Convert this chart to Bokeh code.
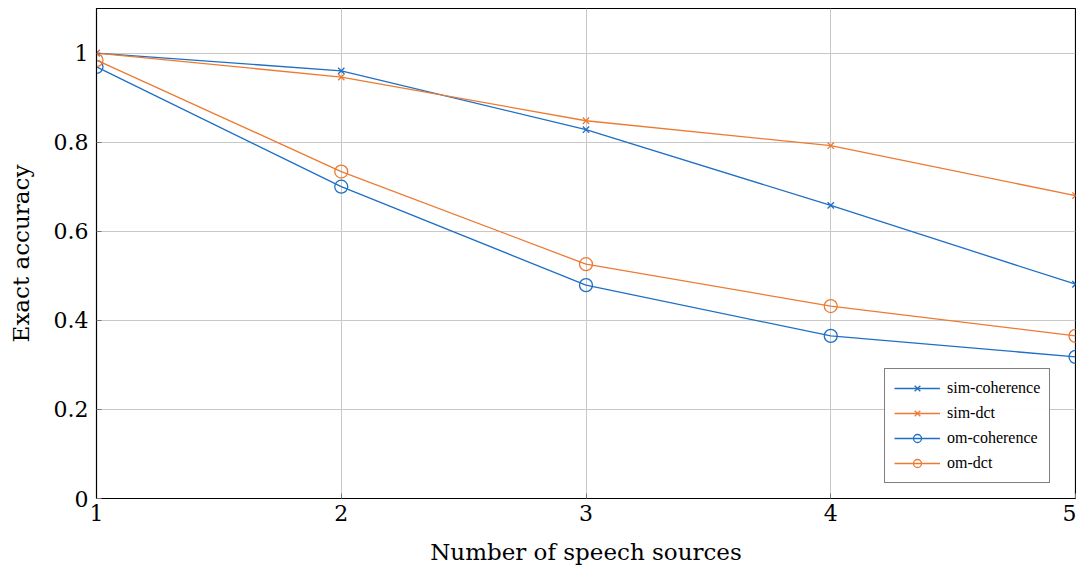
from bokeh.plotting import figure
from bokeh.embed import file_html
from bokeh.resources import INLINE
from bokeh.models import FixedTicker, Range1d, Legend, LegendItem

sources = [1, 2, 3, 4, 5]
sim_coherence = [1.0, 0.960, 0.828, 0.658, 0.481]
sim_dct = [1.0, 0.946, 0.848, 0.792, 0.680]
om_coherence = [0.969, 0.700, 0.479, 0.365, 0.318]
om_dct = [0.984, 0.734, 0.526, 0.432, 0.365]
y_ticks = [0, 0.2, 0.4, 0.6, 0.8, 1.0]
y_tick_labels = ["0", "0.2", "0.4", "0.6", "0.8", "1"]

BLUE = "#1f6fc5"
ORANGE = "#ec7a32"
FONT = "DejaVu Serif"
LEGEND_FONT = "Liberation Serif"

p = figure(width=1076, height=567, output_backend="svg", toolbar_location=None,
           x_range=Range1d(1, 5), y_range=Range1d(0, 1.1),
           min_border_left=96, min_border_right=1, min_border_top=8, min_border_bottom=69)
p.outline_line_color = "black"
p.outline_line_width = 1.2
p.background_fill_color = "white"
p.border_fill_color = "white"

p.xaxis.ticker = FixedTicker(ticks=sources)
p.yaxis.ticker = FixedTicker(ticks=y_ticks)
p.yaxis.major_label_overrides = {t: l for t, l in zip(y_ticks, y_tick_labels)}
for ax in (p.xaxis, p.yaxis):
    ax.axis_line_color = "black"
    ax.major_tick_in = 5
    ax.major_tick_out = 0
    ax.major_tick_line_color = "#777777"
    ax.minor_tick_line_color = None
    ax.major_label_text_font = FONT
    ax.major_label_text_font_size = "22px"
    ax.major_label_text_color = "black"
    ax.axis_label_text_font = FONT
    ax.axis_label_text_font_size = "23px"
    ax.axis_label_text_font_style = "normal"
    ax.axis_label_text_color = "black"
p.xaxis.axis_label = "Number of speech sources"
p.yaxis.axis_label = "Exact accuracy"
p.xaxis.major_label_standoff = 6
p.yaxis.major_label_standoff = 8
p.xaxis.axis_label_standoff = 15
p.yaxis.axis_label_standoff = 17

p.xgrid.grid_line_color = "#c8c8c8"
p.ygrid.grid_line_color = "#c8c8c8"
p.xgrid.grid_line_width = 1
p.ygrid.grid_line_width = 1

series = [
    ("sim-coherence", sim_coherence, BLUE, "x"),
    ("sim-dct", sim_dct, ORANGE, "x"),
    ("om-coherence", om_coherence, BLUE, "circle"),
    ("om-dct", om_dct, ORANGE, "circle"),
]
items = []
for name, vals, col, mk in series:
    l = p.line(sources, vals, line_color=col, line_width=1.3)
    if mk == "x":
        s = p.scatter(sources, vals, marker="x", size=9, line_color=col, line_width=1.3)
    else:
        s = p.scatter(sources, vals, marker="circle", size=13, line_color=col,
                      fill_color=None, line_width=1.3)
    items.append(LegendItem(label=name, renderers=[l, s]))

legend = Legend(items=items, location=(788, 15))
legend.label_text_font = LEGEND_FONT
legend.label_text_font_size = "16px"
legend.label_text_color = "black"
legend.border_line_color = "black"
legend.border_line_width = 1.2
legend.glyph_width = 46
legend.glyph_height = 20
legend.spacing = 5
legend.padding = 9
legend.margin = 0
legend.label_standoff = 7
legend.label_height = 20
p.add_layout(legend)

open("out.html", "w").write(file_html(p, INLINE))
